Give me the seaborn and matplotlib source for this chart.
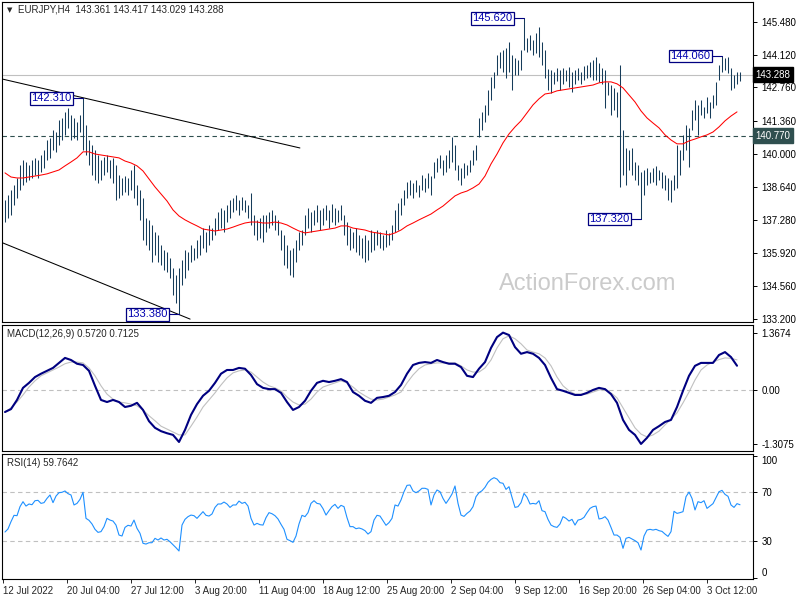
import numpy as np
import seaborn as sns
import matplotlib
matplotlib.use('Agg')
from matplotlib import pyplot as plt

sns.set_style('white')
plt.rcParams['font.family'] = ['Liberation Sans', 'DejaVu Sans']
plt.rcParams['font.size'] = 7

# ---- data ----
symbol = 'EURJPY,H4'
last_ohlc = ['143.361', '143.417', '143.029', '143.288']

highs = [
    138.11, 138.32, 138.52, 138.73, 139.02, 139.56, 139.76, 139.68, 139.56, 139.76,
    139.85, 139.76, 139.97, 140.18, 140.59, 140.67, 141.00, 140.92, 141.42, 141.50,
    141.75, 141.91, 141.62, 141.50, 141.33, 141.62, 142.31, 141.21, 140.59, 140.38,
    140.18, 139.97, 139.76, 139.89, 139.97, 139.76, 139.85, 139.56, 139.14, 139.02,
    139.10, 139.02, 139.35, 139.56, 138.73, 138.52, 138.19, 137.36, 137.29, 137.08,
    136.79, 136.67, 136.25, 136.05, 135.96, 135.72, 135.31, 135.01, 135.31, 135.63,
    136.05, 135.96, 136.25, 136.13, 136.46, 136.67, 136.96, 136.79, 137.08, 136.96,
    137.36, 137.61, 137.78, 137.70, 137.90, 138.11, 138.19, 138.32, 138.11, 138.24,
    138.11, 137.90, 138.40, 137.49, 137.29, 137.36, 137.49, 137.49, 137.61, 137.70,
    137.49, 137.29, 136.87, 136.67, 136.25, 136.05, 136.13, 136.46, 136.79, 136.87,
    137.49, 137.78, 137.61, 137.70, 137.90, 137.70, 137.78, 137.90, 137.70, 137.94,
    137.78, 137.70, 137.90, 137.49, 137.20, 136.96, 136.79, 136.96, 136.67, 136.54,
    136.67, 136.46, 136.87, 136.79, 136.87, 136.79, 136.67, 136.87, 136.75, 137.08,
    137.70, 137.99, 138.19, 138.52, 138.85, 138.94, 138.81, 138.94, 138.73, 139.14,
    139.02, 139.23, 139.10, 139.68, 139.85, 139.97, 139.76, 139.97, 140.18, 140.71,
    140.38, 139.56, 139.43, 139.64, 139.56, 139.76, 140.18, 140.38, 141.50, 141.75,
    142.04, 142.66, 143.20, 143.41, 144.10, 144.23, 144.31, 144.39, 144.64, 144.10,
    143.98, 143.90, 144.31, 145.62, 144.81, 144.93, 144.72, 145.01, 145.26, 144.64,
    144.31, 143.53, 143.49, 143.40, 143.57, 143.49, 143.57, 143.49, 143.61, 143.40,
    143.49, 143.57, 143.40, 143.65, 143.69, 143.82, 143.90, 144.02, 143.78, 143.57,
    143.49, 142.99, 142.86, 142.74, 142.57, 143.69, 141.00, 140.26, 140.18, 140.26,
    139.68, 139.56, 139.27, 139.35, 139.43, 139.27, 139.43, 139.52, 139.35, 139.27,
    139.14, 139.02, 138.94, 139.14, 140.38, 140.18, 140.80, 141.21, 141.08, 141.83,
    142.24, 142.04, 142.24, 141.95, 142.36, 142.16, 142.45, 142.99, 143.69, 144.06,
    143.98, 144.00, 143.57, 143.28, 143.40, 143.417,
]
lows = [
    137.20, 137.37, 137.49, 137.90, 138.19, 138.52, 138.73, 138.86, 138.94, 139.02,
    139.14, 139.02, 139.27, 139.43, 139.76, 139.85, 140.18, 140.10, 140.38, 140.59,
    140.80, 141.08, 140.59, 140.67, 140.59, 140.92, 140.18, 139.97, 139.56, 139.14,
    138.94, 138.81, 138.94, 139.14, 139.27, 139.02, 138.81, 138.11, 138.19, 138.32,
    138.44, 138.32, 138.52, 138.19, 137.90, 137.29, 136.46, 136.25, 136.05, 135.55,
    135.84, 135.55, 135.43, 135.22, 135.14, 134.89, 134.19, 133.85, 133.38, 134.60,
    134.89, 135.22, 135.55, 135.63, 135.72, 135.84, 136.13, 135.96, 136.25, 136.46,
    136.67, 136.87, 136.96, 136.79, 137.20, 137.37, 137.61, 137.70, 137.49, 137.70,
    137.61, 137.37, 137.08, 136.67, 136.46, 136.54, 136.38, 136.79, 136.96, 137.08,
    136.87, 136.67, 136.05, 135.43, 135.31, 135.01, 134.93, 135.55, 136.05, 136.25,
    136.67, 136.96, 136.79, 137.08, 137.20, 136.87, 137.08, 137.29, 136.96, 137.20,
    137.08, 137.20, 137.29, 136.67, 136.25, 136.05, 136.13, 135.96, 135.84, 135.72,
    135.55, 135.63, 135.96, 136.05, 136.25, 136.13, 136.05, 136.17, 136.25, 136.46,
    136.79, 136.87, 137.49, 137.90, 138.19, 138.32, 138.19, 138.44, 138.24, 138.52,
    138.44, 138.61, 138.32, 139.02, 139.27, 139.43, 139.14, 139.27, 139.43, 139.68,
    139.35, 138.94, 138.73, 139.02, 139.14, 139.27, 139.56, 139.76, 140.71, 141.00,
    141.33, 141.62, 142.24, 142.74, 143.28, 143.57, 143.40, 143.15, 143.40, 142.66,
    143.28, 143.28, 143.49, 144.31, 144.23, 144.31, 144.10, 144.19, 144.02, 143.69,
    143.15, 142.66, 142.53, 142.91, 143.03, 142.66, 142.91, 143.03, 142.78, 142.57,
    142.91, 143.07, 142.91, 143.07, 143.15, 143.20, 143.07, 143.07, 142.99, 142.91,
    141.91, 142.45, 141.62, 141.83, 141.54, 138.64, 139.14, 138.73, 139.35, 139.14,
    138.94, 138.73, 137.32, 138.32, 138.73, 138.81, 138.86, 138.73, 138.94, 138.61,
    138.52, 138.11, 138.02, 138.52, 138.61, 139.14, 139.76, 140.18, 139.49, 141.00,
    141.42, 140.80, 141.62, 141.50, 141.71, 141.50, 141.91, 142.04, 143.07, 143.40,
    143.49, 143.36, 142.66, 142.74, 142.91, 143.029,
]

# moving average, one value every 2nd bar
ma = [
    139.23, 139.06, 139.02, 139.02, 139.06, 139.10, 139.14, 139.19, 139.27, 139.35,
    139.52, 139.68, 139.85, 140.10, 140.10, 140.01, 139.97, 139.93, 139.89, 139.85,
    139.72, 139.64, 139.52, 139.31, 138.98, 138.65, 138.36, 138.07, 137.70, 137.45,
    137.29, 137.16, 137.04, 136.91, 136.87, 136.83, 136.87, 136.91, 136.99, 137.08,
    137.16, 137.20, 137.20, 137.16, 137.16, 137.20, 137.16, 137.08, 136.95, 136.83,
    136.75, 136.79, 136.83, 136.87, 136.91, 136.95, 137.04, 137.04, 136.95, 136.91,
    136.87, 136.79, 136.75, 136.71, 136.67, 136.75, 136.87, 137.04, 137.16, 137.29,
    137.41, 137.53, 137.70, 137.86, 138.07, 138.28, 138.40, 138.48, 138.61, 138.77,
    139.10, 139.60, 140.01, 140.47, 140.84, 141.13, 141.38, 141.71, 142.04, 142.29,
    142.49, 142.53, 142.62, 142.66, 142.70, 142.74, 142.78, 142.82, 142.86, 142.95,
    142.99, 142.99, 142.91, 142.74, 142.45, 142.16, 141.79, 141.50, 141.29, 141.09,
    140.80, 140.59, 140.43, 140.43, 140.55, 140.63, 140.72, 140.80, 140.92, 141.13,
    141.38, 141.58, 141.75,
]

# MACD(12,26,9), one value every 2nd bar
macd_main = [
    -0.54, -0.47, -0.25, 0.04, 0.16, 0.30, 0.38, 0.45, 0.52, 0.64,
    0.76, 0.71, 0.62, 0.59, 0.45, 0.09, -0.25, -0.30, -0.25, -0.30,
    -0.42, -0.39, -0.32, -0.49, -0.76, -0.92, -1.00, -1.05, -1.09, -1.26,
    -0.97, -0.61, -0.35, -0.15, -0.03, 0.16, 0.38, 0.47, 0.47, 0.52,
    0.50, 0.35, 0.13, 0.04, 0.01, 0.01, -0.08, -0.30, -0.49, -0.42,
    -0.27, -0.03, 0.16, 0.21, 0.18, 0.21, 0.25, 0.18, -0.06, -0.15,
    -0.27, -0.32, -0.20, -0.18, -0.15, -0.06, 0.11, 0.38, 0.59, 0.64,
    0.66, 0.64, 0.71, 0.66, 0.62, 0.62, 0.54, 0.33, 0.30, 0.50,
    0.66, 1.00, 1.26, 1.3674, 1.31, 1.02, 0.86, 0.90, 0.86, 0.76,
    0.59, 0.28, 0.01, -0.03, -0.08, -0.13, -0.13, -0.08, -0.01, 0.04,
    0.01, -0.11, -0.32, -0.73, -0.97, -1.09, -1.3075, -1.16, -0.97, -0.88,
    -0.78, -0.73, -0.42, -0.03, 0.33, 0.57, 0.64, 0.64, 0.64, 0.83,
    0.90, 0.78, 0.5720,
]
macd_signal = [
    -0.54, -0.44, -0.30, -0.13, 0.06, 0.21, 0.33, 0.40, 0.47, 0.54,
    0.62, 0.66, 0.66, 0.64, 0.52, 0.33, 0.09, -0.11, -0.23, -0.30,
    -0.32, -0.35, -0.39, -0.49, -0.63, -0.75, -0.88, -0.95, -1.02, -1.09,
    -1.09, -0.88, -0.66, -0.42, -0.25, -0.08, 0.11, 0.28, 0.40, 0.45,
    0.47, 0.42, 0.30, 0.18, 0.09, 0.04, -0.03, -0.18, -0.30, -0.37,
    -0.35, -0.23, -0.06, 0.06, 0.11, 0.16, 0.21, 0.16, 0.06, -0.06,
    -0.15, -0.23, -0.25, -0.23, -0.18, -0.13, -0.06, 0.16, 0.35, 0.50,
    0.59, 0.62, 0.64, 0.64, 0.64, 0.64, 0.57, 0.47, 0.42, 0.42,
    0.52, 0.71, 1.00, 1.22, 1.29, 1.22, 1.10, 0.95, 0.90, 0.86,
    0.76, 0.57, 0.30, 0.09, -0.03, -0.11, -0.11, -0.11, -0.06, -0.01,
    0.01, -0.08, -0.20, -0.44, -0.68, -0.92, -1.07, -1.14, -1.09, -1.00,
    -0.85, -0.71, -0.56, -0.32, -0.06, 0.23, 0.47, 0.59, 0.66, 0.72,
    0.76, 0.75, 0.7125,
]

# RSI(14), one value per bar
rsi = [
    37.4, 39.9, 45.9, 51.1, 50.8, 58.2, 62.3, 58.7, 60.4, 59.8,
    63.1, 63.4, 60.9, 61.5, 65.0, 67.8, 61.5, 66.9, 69.7, 70.0,
    71.1, 68.9, 67.8, 59.6, 60.9, 64.2, 70.0, 48.6, 47.0, 44.0,
    39.6, 37.1, 37.7, 41.8, 48.6, 47.2, 46.4, 43.1, 34.9, 34.1,
    41.2, 42.9, 42.3, 47.2, 40.4, 36.3, 28.1, 27.5, 28.6, 28.6,
    32.2, 30.8, 32.5, 30.8, 31.4, 29.4, 27.0, 24.5, 21.8, 43.1,
    47.8, 50.0, 51.3, 50.8, 48.6, 51.3, 54.1, 51.1, 50.5, 52.2,
    57.6, 60.4, 60.4, 62.0, 60.4, 57.6, 59.6, 59.6, 62.8, 60.9,
    61.8, 58.7, 48.6, 43.1, 44.5, 43.4, 43.1, 49.2, 53.3, 52.4,
    50.8, 48.1, 43.7, 39.6, 31.4, 30.3, 28.9, 34.1, 44.0, 51.1,
    50.0, 53.3, 60.9, 63.1, 60.9, 60.4, 56.6, 51.3, 54.9, 58.2,
    60.1, 56.8, 59.3, 58.2, 49.2, 41.8, 41.8, 40.1, 40.7, 39.9,
    38.5, 35.7, 37.7, 47.2, 51.1, 50.5, 46.7, 42.9, 45.1, 48.6,
    59.6, 58.7, 63.7, 70.5, 75.7, 76.0, 71.1, 69.7, 71.1, 73.3,
    73.3, 72.4, 59.6, 67.8, 71.9, 70.5, 65.0, 60.9, 64.5, 68.6,
    75.2, 60.9, 51.3, 50.2, 52.7, 54.6, 58.2, 66.4, 69.7, 71.3,
    74.1, 78.2, 80.6, 82.0, 80.9, 77.9, 77.4, 72.4, 74.6, 65.9,
    57.6, 58.2, 61.5, 69.1, 65.9, 60.4, 60.9, 60.4, 63.1, 54.9,
    54.1, 47.8, 43.1, 41.8, 41.2, 44.0, 50.0, 48.6, 46.4, 47.8,
    43.1, 47.2, 47.8, 49.4, 53.3, 56.8, 58.2, 58.7, 48.1, 48.6,
    50.0, 47.2, 41.2, 34.9, 34.9, 33.0, 24.0, 32.2, 33.0, 31.6,
    30.3, 28.6, 22.6, 34.1, 39.0, 39.6, 39.0, 39.6, 38.5, 37.9,
    35.7, 33.8, 37.7, 54.4, 52.7, 53.3, 54.1, 66.4, 70.2, 65.0,
    55.5, 62.3, 61.5, 63.1, 56.8, 58.7, 60.7, 65.6, 70.5, 71.6,
    68.3, 66.7, 59.6, 57.6, 60.7, 59.7642,
]

price_ticks = [145.48, 144.12, 142.76, 141.36, 140.00, 138.64, 137.28, 135.92, 134.56, 133.20]
macd_ticks = [1.3674, 0.0, -1.3075]
macd_labels = ['1.3674', '0.00', '-1.3075']
rsi_ticks = [100, 70, 30, 0]
date_labels = ['12 Jul 2022', '20 Jul 04:00', '27 Jul 12:00', '3 Aug 20:00', '11 Aug 04:00',
               '18 Aug 12:00', '25 Aug 20:00', '2 Sep 04:00', '9 Sep 12:00', '16 Sep 20:00',
               '26 Sep 04:00', '3 Oct 12:00']

last_price = 143.288
level_price = 140.770
swing_bars = [26, 58, 173, 212, 239]
swing_prices = [142.31, 133.38, 145.62, 137.32, 144.06]
upper_trend_bars, upper_trend = [-1, 98.3], [143.11, 140.26]
lower_trend_bars, lower_trend = [-1, 61.7], [136.35, 133.19]

# ---- layout (pixel based, MT4 style) ----
W, H = 800, 600
fig = plt.figure(figsize=(8, 6), dpi=100)


def px_axes(x0, y0, x1, y1):
    return fig.add_axes([x0 / W, 1 - y1 / H, (x1 - x0) / W, (y1 - y0) / H])


ax = px_axes(2, 2, 753, 322)
ax_m = px_axes(2, 325, 753, 451)
ax_r = px_axes(2, 454, 753, 579)

bar_color = '#163c5a'
navy = '#000080'
silver = '#c0c0c0'
n = len(highs)
bars = np.arange(n)
xlim = (-1, 249.33)

for a in (ax, ax_m, ax_r):
    a.set_xlim(*xlim)
    for s in a.spines.values():
        s.set_color('black')
        s.set_linewidth(0.8)
    a.yaxis.tick_right()
    a.tick_params(axis='y', direction='out', length=3, width=0.7, pad=3, labelsize=7, colors='black')
    a.tick_params(axis='x', bottom=False, labelbottom=False)

# ---- price panel ----
ax.vlines(bars, lows, highs, color=bar_color, lw=0.75, zorder=3)
sns.lineplot(x=np.arange(0, 2 * len(ma), 2), y=ma, ax=ax, color='#ff0000', lw=0.75, legend=False, zorder=4)
ax.axhline(last_price, color=silver, lw=0.8, zorder=1)
ax.axhline(level_price, color='#2f4f4f', lw=0.8, ls=(0, (4, 3)), zorder=1)
ax.plot(upper_trend_bars, upper_trend, color='black', lw=0.75, zorder=5)
ax.plot(lower_trend_bars, lower_trend, color='black', lw=0.75, zorder=5)
ax.set_ylim(133.07, 146.29)
ax.set_yticks(price_ticks, [f'{t:.3f}' for t in price_ticks])

ax.text(0.78, 0.12, 'ActionForex.com', transform=ax.transAxes, fontsize=17,
        color='#cbcbcb', ha='center', va='center', zorder=0)

for k, p in zip(swing_bars, swing_prices):
    xt = k - 3.9
    ax.plot([xt, k], [p, p], color=navy, lw=0.8, zorder=6)
    ax.text(xt, p, f'{p:.3f}', ha='right', va='center', color='#0000b0', fontsize=8, zorder=7,
            bbox=dict(boxstyle='square,pad=0.12', fc='white', ec=navy, lw=0.9))

ytr = ax.get_yaxis_transform()
ax.text(1.003, last_price, f'{last_price:.3f}', transform=ytr, ha='left', va='center', color='white',
        fontsize=7, zorder=8, clip_on=False,
        bbox=dict(boxstyle='square,pad=0.25', fc='black', ec='black'))
ax.text(1.003, level_price, f'{level_price:.3f}', transform=ytr, ha='left', va='center', color='white',
        fontsize=7, zorder=8, clip_on=False,
        bbox=dict(boxstyle='square,pad=0.25', fc='#2f4f4f', ec='#2f4f4f'))

fig.text(10 / W, 1 - 10 / H, '\u25bc', fontsize=5, family='DejaVu Sans', ha='center', va='center')
fig.text(18 / W, 1 - 10 / H, symbol + '  ' + ' '.join(last_ohlc), fontsize=7, ha='left', va='center')

# ---- MACD panel ----
xm = np.arange(0, 2 * len(macd_main), 2)
ax_m.axhline(0, color=silver, lw=0.8, ls=(0, (4, 3)))
sns.lineplot(x=xm, y=macd_signal, ax=ax_m, color=silver, lw=0.8, legend=False)
sns.lineplot(x=xm, y=macd_main, ax=ax_m, color=navy, lw=1.5, legend=False)
ax_m.set_ylim(-1.477, 1.551)
ax_m.set_yticks(macd_ticks, macd_labels)
ax_m.text(0.006, 0.965, f'MACD(12,26,9) {macd_main[-1]:.4f} {macd_signal[-1]:.4f}',
          transform=ax_m.transAxes, ha='left', va='top', fontsize=7)

# ---- RSI panel ----
ax_r.axhline(70, color=silver, lw=0.8, ls=(0, (4, 3)))
ax_r.axhline(30, color=silver, lw=0.8, ls=(0, (4, 3)))
sns.lineplot(x=bars[:len(rsi)], y=rsi, ax=ax_r, color='#1e90ff', lw=0.8, legend=False)
ax_r.set_ylim(-1.2, 101.46)
ax_r.set_yticks(rsi_ticks, [str(t) for t in rsi_ticks])
tl = ax_r.get_yticklabels()
tl[0].set_va('top')
tl[-1].set_va('bottom')
ax_r.text(0.006, 0.965, f'RSI(14) {rsi[-1]:.4f}', transform=ax_r.transAxes,
          ha='left', va='top', fontsize=7)

date_pos = [(2.7 + 64 * i - 5) / 3 for i in range(len(date_labels))]
ax_r.set_xticks(date_pos, date_labels)
ax_r.tick_params(axis='x', bottom=True, labelbottom=True, direction='out', length=3, width=0.7,
                 pad=2, labelsize=7)
for lab in ax_r.get_xticklabels():
    lab.set_ha('left')
ax_r.set_xlim(*xlim)

for a in (ax, ax_m, ax_r):
    a.set_xlabel('')
    a.set_ylabel('')

fig.savefig('out.png', dpi=100)
